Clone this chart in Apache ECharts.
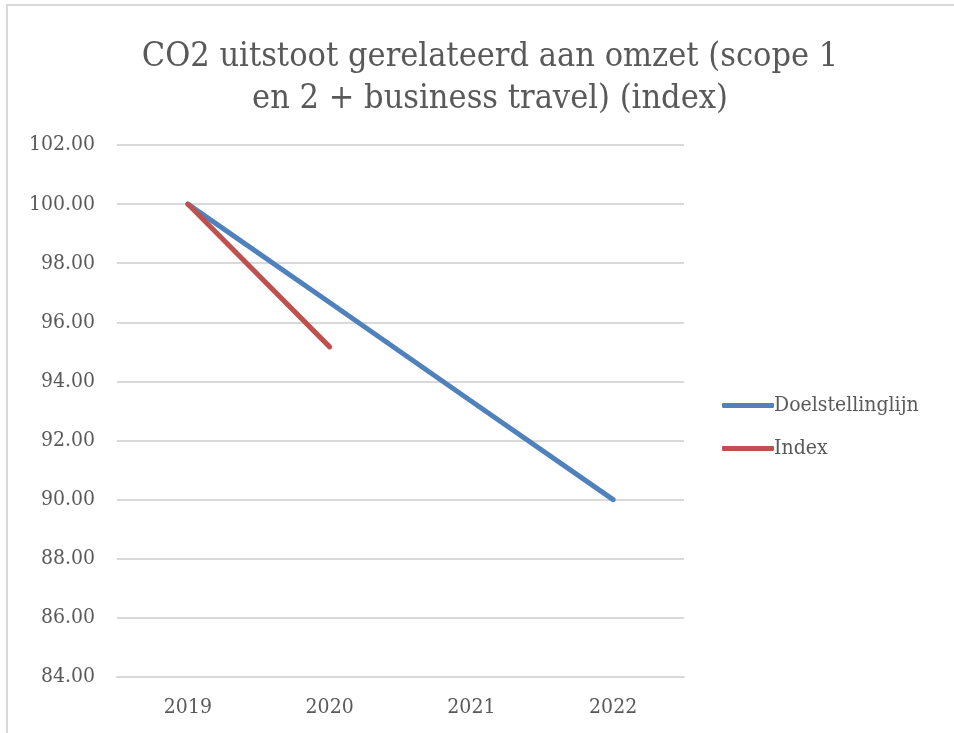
<!DOCTYPE html>
<html>
<head>
<meta charset="utf-8">
<script src="https://cdn.jsdelivr.net/npm/echarts@6/dist/echarts.min.js"></script>
<style>
  html, body { margin: 0; padding: 0; background: #fff; }
  #frame { position: absolute; left: 6px; top: 4px; width: 948px; height: 729px;
           border-left: 2px solid #d9d9d9; border-top: 2px solid #d9d9d9; box-sizing: border-box; }
  #chart { position: absolute; left: 0; top: 0; width: 954px; height: 733px; }
</style>
</head>
<body>
<div id="frame"></div>
<div id="chart"></div>
<script>
// jaren en waarden
var years = ['2019', '2020', '2021', '2022'];
var doelstelling = [100, 96.67, 93.33, 90];
var indexWaarden = [100, 95.17, null, null];
var yMin = 84, yMax = 102, yStap = 2;

var chart = echarts.init(document.getElementById('chart'));

var serif = '"DejaVu Serif Condensed", "Liberation Serif", serif';

var option = {
    backgroundColor: 'transparent',
    title: {
        text: 'CO2 uitstoot gerelateerd aan omzet (scope 1\nen 2 + business travel) (index)',
        left: 485,
        textAlign: 'center',
        top: 31,
        textStyle: {
            fontFamily: serif,
            fontWeight: 'normal',
            fontSize: 34,
            lineHeight: 42,
            color: '#595959'
        }
    },
    legend: {
        orient: 'vertical',
        left: 722,
        top: 395,
        padding: 0,
        itemWidth: 52,
        itemHeight: 5,
        itemGap: 22,
        icon: 'roundRect',
        textStyle: { fontFamily: serif, fontSize: 21, color: '#595959', padding: [0, 0, 0, -5] },
        data: ['Doelstellinglijn', 'Index']
    },
    grid: { left: 117, right: 270, top: 145, bottom: 56 },
    xAxis: {
        type: 'category',
        data: years,
        boundaryGap: true,
        axisLine: { lineStyle: { color: '#d9d9d9', width: 2 } },
        axisTick: { show: false },
        axisLabel: { fontFamily: serif, fontSize: 21, color: '#595959', margin: 20 }
    },
    yAxis: {
        type: 'value',
        min: yMin,
        max: yMax,
        interval: yStap,
        axisLine: { show: false },
        axisTick: { show: false },
        splitLine: { lineStyle: { color: '#d9d9d9', width: 2 } },
        axisLabel: {
            fontFamily: serif, fontSize: 21, color: '#595959', margin: 22,
            formatter: function (v) { return v.toFixed(2); }
        }
    },
    series: [{
        name: 'Doelstellinglijn',
        type: 'line',
        data: doelstelling,
        symbol: 'none',
        color: '#4F81BD',
        lineStyle: { width: 5, cap: 'round' }
    }, {
        name: 'Index',
        type: 'line',
        data: indexWaarden,
        symbol: 'none',
        color: '#C0504D',
        lineStyle: { width: 5, cap: 'round' }
    }]
};

chart.setOption(option);

window.addEventListener('resize', function () {
    chart.resize();
});
</script>
</body>
</html>
